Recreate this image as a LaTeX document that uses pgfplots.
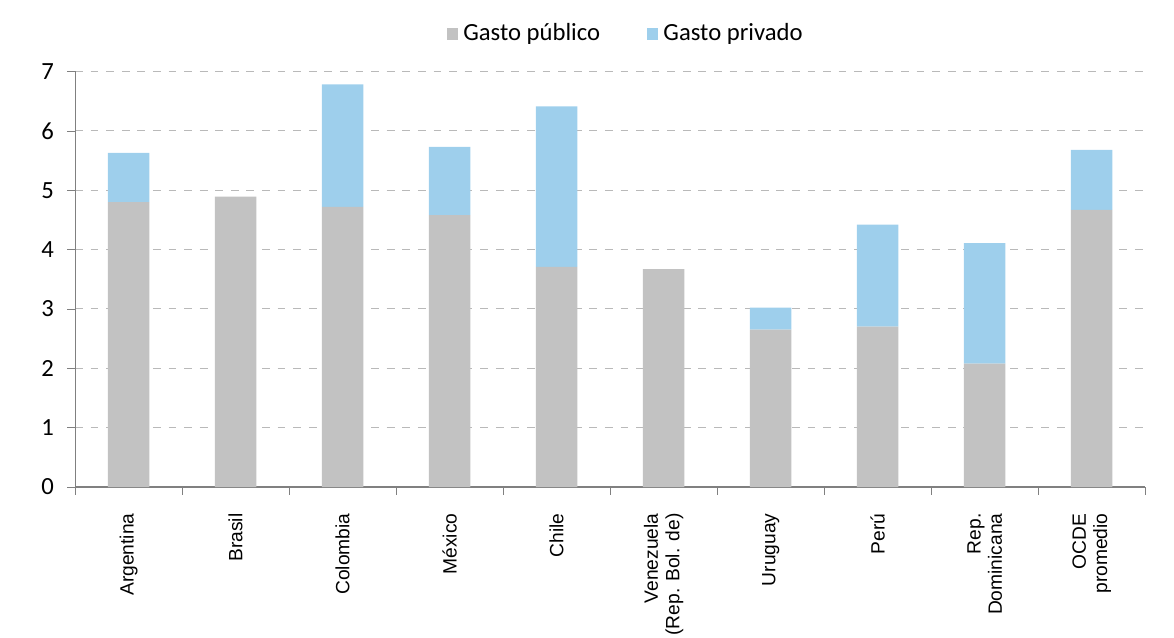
\documentclass[border=0pt]{standalone}
\usepackage{pgfplots}
\pgfplotsset{compat=1.18}
\usepackage{fontspec}
\setmainfont{Carlito}
\newfontfamily\arialf{Liberation Sans}
\definecolor{pub}{RGB}{194,194,194}
\definecolor{priv}{RGB}{158,207,236}
\definecolor{axgray}{RGB}{128,128,128}
\begin{document}
\begin{tikzpicture}
\useasboundingbox (-28.9pt,-58.1pt) rectangle (423.1pt,187.5pt);
\begin{axis}[
  scale only axis,
  width=412pt, height=160pt,
  ybar stacked, bar width=16pt,
  xmin=-0.5, xmax=9.5, ymin=0, ymax=7,
  ytick={0,...,7},
  xtick={0,...,9},
  xticklabels={Argentina,Brasil,Colombia,México,Chile,{Venezuela\\(Rep. Bol. de)},Uruguay,Perú,{Rep.\\Dominicana},{OCDE\\promedio}},
  minor xtick={-0.5,0.5,...,9.5},
  major x tick style={draw=none},
  minor x tick style={axgray},
  minor tick length=3pt,
  y tick style={axgray},
  major tick length=3pt,
  tick align=outside,
  axis x line*=bottom, axis y line*=left,
  axis line style={axgray, -},
  ymajorgrids, major grid style={dashed, gray!55},
  xticklabel style={rotate=90, anchor=east, align=right, font=\arialf\fontsize{7.4}{8.2}\selectfont, inner sep=1pt, xshift=-6pt},
  yticklabel style={font=\fontsize{9.5}{11}\selectfont, inner sep=1pt, xshift=-4pt},
  /pgf/number format/assume math mode=true,
  legend style={at={(0.516,1.09)}, anchor=center, draw=none, legend columns=2, font=\fontsize{9.5}{11}\selectfont, /tikz/every even column/.append style={column sep=16pt}},
  legend image code/.code={\fill[#1] (0pt,-2.2pt) rectangle (4.4pt,2.2pt);},
]
\addplot[fill=pub, draw=none] coordinates {(0,4.80) (1,4.89) (2,4.72) (3,4.58) (4,3.71) (5,3.67) (6,2.65) (7,2.70) (8,2.08) (9,4.67)};
\addplot[fill=priv, draw=none] coordinates {(0,0.83) (1,0) (2,2.06) (3,1.15) (4,2.70) (5,0) (6,0.37) (7,1.72) (8,2.03) (9,1.01)};
\legend{Gasto público, Gasto privado}
\end{axis}
\end{tikzpicture}
\end{document}
